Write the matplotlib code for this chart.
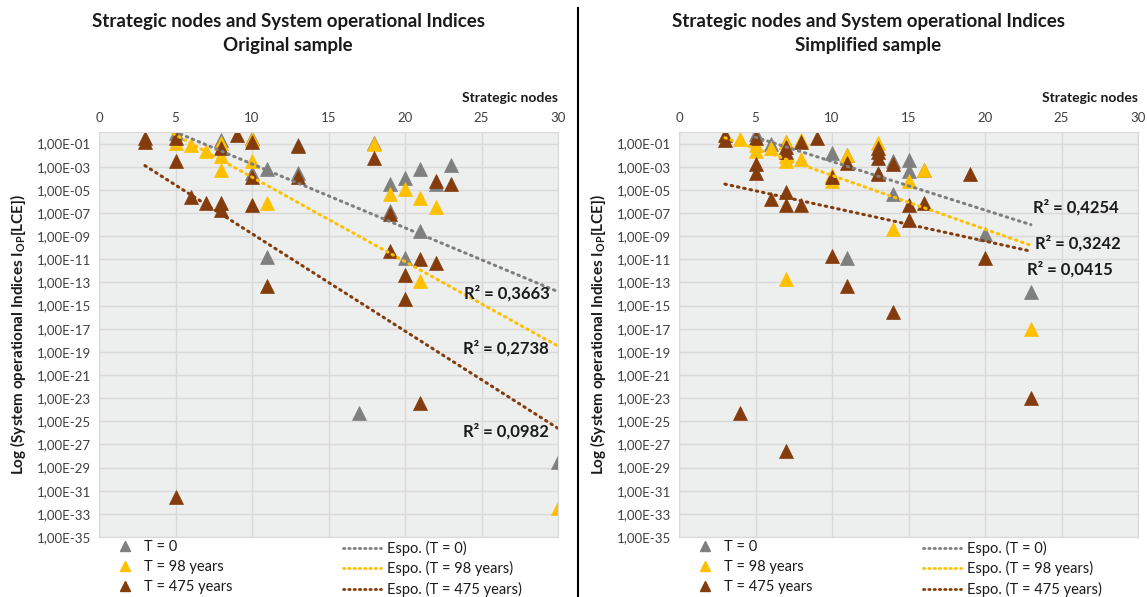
import matplotlib
matplotlib.use("Agg")
import matplotlib.pyplot as plt
from matplotlib.lines import Line2D
from matplotlib.ticker import FixedLocator, FuncFormatter
import numpy as np

plt.rcParams["font.family"] = ["Lato", "DejaVu Sans"]
plt.rcParams["mathtext.fontset"] = "custom"
plt.rcParams["mathtext.rm"] = "Lato:bold"
plt.rcParams["mathtext.it"] = "Lato:bold"
plt.rcParams["mathtext.bf"] = "Lato:bold"

series_labels = ["T = 0", "T = 98 years", "T = 475 years"]
trend_labels = ["Espo. (T = 0)", "Espo. (T = 98 years)", "Espo. (T = 475 years)"]
colors = ["#7F7F7F", "#FFC000", "#843C0C"]

# --- Original sample ---
orig_t0_x = [5, 8, 10, 10, 11, 11, 13, 13, 17, 18, 19, 19, 20, 20, 21, 21, 22, 23, 30]
orig_t0_y = [0.9, 0.2, 0.3, 2.6e-4, 7e-4, 1.6e-11, 0.07, 2.6e-4, 5e-25, 0.12,
             3e-5, 1.5e-7, 1e-4, 1.2e-11, 7e-4, 3e-9, 3e-5, 1.3e-3, 3e-29]
orig_t98_x = [5, 6, 7, 8, 8, 8, 10, 10, 11, 18, 19, 20, 21, 21, 22, 30]
orig_t98_y = [0.12, 0.08, 0.025, 0.12, 0.008, 5e-4, 0.25, 3e-3, 6.7e-7, 0.1,
              4e-6, 1.3e-5, 2e-6, 1.3e-13, 3e-7, 3e-33]
orig_t475_x = [3, 3, 5, 5, 5, 6, 7, 8, 8, 8, 9, 10, 10, 10, 11, 13, 13, 18, 19, 19,
               20, 20, 21, 21, 22, 22, 23]
orig_t475_y = [0.3, 0.15, 0.3, 3e-3, 3e-32, 2.2e-6, 6.7e-7, 0.045, 6.7e-7, 2e-7, 0.6,
               0.15, 1.4e-4, 4.6e-7, 5e-14, 0.06, 1.2e-4, 6e-3, 9e-8, 5e-11,
               4e-13, 4e-15, 1e-11, 4e-24, 6e-5, 5e-12, 3.5e-5]
# exponential trendlines as log10(y) = a + b*x
orig_trend_a = [2.76, 3.4, -0.38]
orig_trend_b = [-0.552, -0.73, -0.841]
orig_trend_x0 = [3, 3, 3]
orig_trend_x1 = [30, 30, 30]
orig_r2 = ["0,3663", "0,2738", "0,0982"]
orig_r2_x = [26.65, 26.6, 26.6]
orig_r2_exp = [-13.93, -18.67, -25.9]

# --- Simplified sample ---
simp_t0_x = [5, 6, 7, 10, 11, 11, 13, 14, 14, 15, 15, 16, 20, 23]
simp_t0_y = [0.7, 0.1, 0.15, 0.014, 0.01, 1.2e-11, 3e-4, 3e-3, 4e-6, 4e-3, 4e-4,
             5e-4, 1.6e-9, 1.6e-14]
simp_t98_x = [4, 5, 5, 6, 7, 7, 7, 7, 8, 8, 10, 10, 11, 13, 14, 15, 16, 23]
simp_t98_y = [0.27, 0.07, 0.025, 0.045, 0.15, 8e-3, 3e-3, 2e-13, 0.2, 5e-3, 2e-4,
              6e-5, 0.01, 0.12, 4e-9, 6e-5, 5e-4, 1e-17]
simp_t475_x = [3, 3, 4, 5, 5, 5, 6, 7, 7, 7, 7, 7, 8, 8, 9, 10, 10, 11, 11, 13, 13,
               13, 13, 14, 14, 15, 15, 16, 19, 20, 23]
simp_t475_y = [0.5, 0.2, 5e-25, 0.3, 1.6e-3, 3e-4, 1.6e-6, 0.055, 0.02, 6e-6, 5e-7,
               2.5e-28, 0.15, 5e-7, 0.3, 1.2e-4, 2e-11, 2e-3, 5e-14, 0.045, 0.017,
               6e-3, 2.5e-4, 1.6e-3, 3e-16, 5e-7, 2.3e-8, 8e-7, 2.5e-4, 1.3e-11, 1e-23]
simp_trend_a = [1.65, 0.9, -3.63]
simp_trend_b = [-0.42, -0.465, -0.29]
simp_trend_x0 = [5, 3, 3]
simp_trend_x1 = [23, 23, 23]
simp_r2 = ["0,4254", "0,3242", "0,0415"]
simp_r2_x = [25.95, 26.1, 25.55]
simp_r2_exp = [-6.52, -9.62, -11.86]

y_tick_exps = list(range(-35, 0, 2))
x_ticks = [0, 5, 10, 15, 20, 25, 30]

W, H = 1147, 597
fig = plt.figure(figsize=(W / 100, H / 100), dpi=100)


def fx(px):
    return px / W


def fy(py):
    return 1 - py / H


def draw_panel(left_px, title, xs, ys, ta, tb, tx0, tx1, r2, r2x, r2e):
    ax = fig.add_axes([fx(left_px), fy(537), 459 / W, 405 / H])
    ax.set_facecolor("#EDEEEE")
    ax.set_yscale("log")
    ax.set_xlim(0, 30)
    ax.set_ylim(1e-35, 1e0)
    ax.yaxis.set_major_locator(FixedLocator([10.0 ** e for e in y_tick_exps]))
    ax.yaxis.set_minor_locator(FixedLocator([]))
    ax.yaxis.set_major_formatter(FuncFormatter(
        lambda v, p: "1,00E-%02d" % int(round(-np.log10(v)))))
    ax.set_xticks(x_ticks)
    ax.xaxis.tick_top()
    ax.tick_params(axis="both", length=0, labelsize=9.5, colors="#404040", pad=6)
    ax.grid(True, color="#D9D9D9", linewidth=1)
    ax.set_axisbelow(True)
    for s in ax.spines.values():
        s.set_color("#D9D9D9")

    for i in range(3):
        ax.plot(xs[i], ys[i], linestyle="none", marker="^", markersize=10.5,
                color=colors[i], markeredgecolor=colors[i], markeredgewidth=0.5)
    for i in range(3):
        xt = np.linspace(tx0[i], tx1[i], 200)
        ax.plot(xt, 10.0 ** (ta[i] + tb[i] * xt), color=colors[i], linewidth=2.2,
                linestyle=(0, (0.5, 1.6)), dash_capstyle="round")
    for i in range(3):
        ax.text(r2x[i], 10.0 ** r2e[i], "R² = " + r2[i], ha="center", va="center",
                fontsize=12, fontweight="bold", color="#1A1A1A")

    ax.text(1.0, 1.085, "Strategic nodes", transform=ax.transAxes, ha="right",
            va="center", fontsize=10, fontweight="bold", color="#1A1A1A")
    ax.set_ylabel(r"Log (System operational Indices I$_{\rm OP}$[LCE])",
                  fontsize=11, fontweight="bold", color="#1A1A1A", labelpad=6)
    fig.text(fx(left_px - 40 + 229), fy(22), "Strategic nodes and System operational Indices",
             ha="center", va="center", fontsize=13.5, fontweight="bold", color="#1A1A1A")
    fig.text(fx(left_px - 40 + 229), fy(46), title, ha="center", va="center",
             fontsize=13.5, fontweight="bold", color="#1A1A1A")

    mk = [Line2D([], [], linestyle="none", marker="^", markersize=7, color=c) for c in colors]
    ln = [Line2D([], [], color=c, linewidth=2, linestyle=(0, (0.5, 1.4)),
                 dash_capstyle="round") for c in colors]
    leg1 = fig.legend(mk, series_labels, loc="upper left", frameon=False,
                      bbox_to_anchor=(fx(left_px + 17), fy(540)), fontsize=10.5,
                      handlelength=1.2, handletextpad=0.7, labelspacing=0.42,
                      borderpad=0, borderaxespad=0)
    leg2 = fig.legend(ln, trend_labels, loc="upper left", frameon=False,
                      bbox_to_anchor=(fx(left_px + 244), fy(541)), fontsize=10.5,
                      handlelength=2.6, handletextpad=0.45, labelspacing=0.36,
                      borderpad=0, borderaxespad=0)
    for leg in (leg1, leg2):
        for t in leg.get_texts():
            t.set_color("#1A1A1A")
    return ax


draw_panel(99, "Original sample",
           [orig_t0_x, orig_t98_x, orig_t475_x], [orig_t0_y, orig_t98_y, orig_t475_y],
           orig_trend_a, orig_trend_b, orig_trend_x0, orig_trend_x1,
           orig_r2, orig_r2_x, orig_r2_exp)
draw_panel(679, "Simplified sample",
           [simp_t0_x, simp_t98_x, simp_t475_x], [simp_t0_y, simp_t98_y, simp_t475_y],
           simp_trend_a, simp_trend_b, simp_trend_x0, simp_trend_x1,
           simp_r2, simp_r2_x, simp_r2_exp)

fig.add_artist(Line2D([fx(578), fx(578)], [fy(8), 0], color="black", linewidth=1.5))

fig.savefig("out.png", dpi=100)
